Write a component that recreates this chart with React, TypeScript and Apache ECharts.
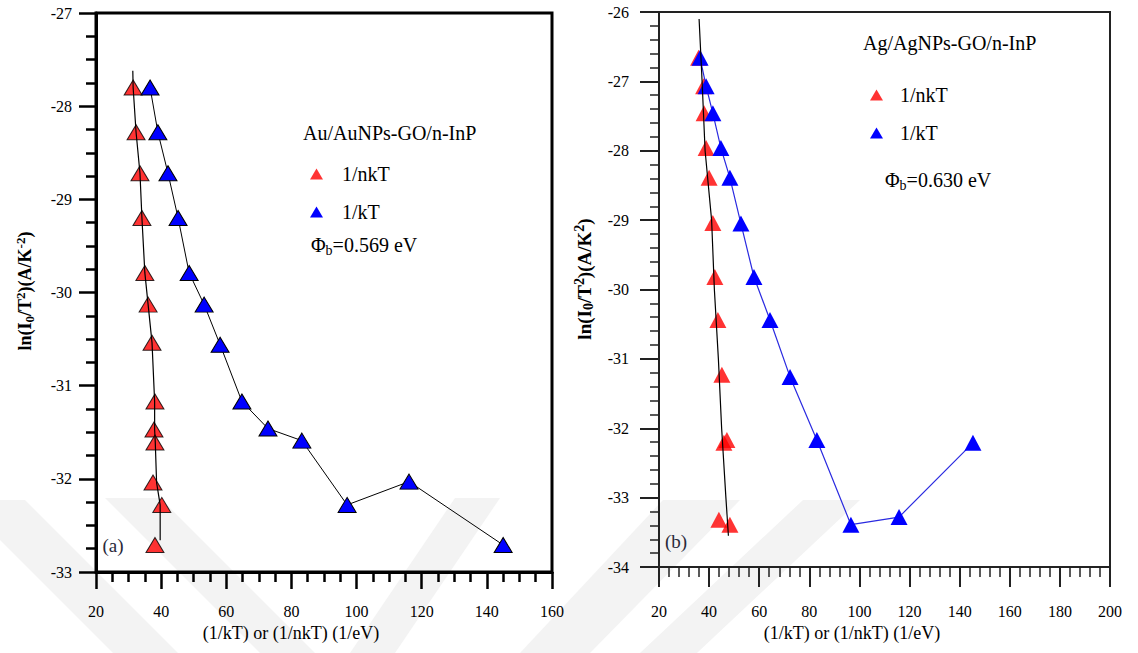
import React, { useEffect, useRef } from "react";
import * as echarts from "echarts";

// Panel (a): Au/AuNPs-GO/n-InP
const leftRedX = [31.4, 32.3, 33.5, 34.1, 35.0, 36.0, 37.2, 38.1, 37.8, 38.1, 37.5, 40.2, 38.1];
const leftRedY = [-27.80, -28.28, -28.72, -29.20, -29.79, -30.13, -30.54, -31.17, -31.47, -31.61, -32.04, -32.28, -32.71];
const leftBlueX = [36.6, 39.0, 42.1, 45.2, 48.6, 53.2, 58.1, 64.8, 72.8, 83.2, 97.1, 116.1, 145.0];
const leftBlueY = [-27.80, -28.28, -28.72, -29.20, -29.79, -30.13, -30.56, -31.17, -31.46, -31.59, -32.28, -32.03, -32.71];
const leftFitX = [31.3, 31.4, 32.3, 33.5, 34.1, 35.0, 36.0, 37.2, 38.0, 38.0, 38.2, 38.6, 39.7, 39.7];
const leftFitY = [-27.62, -27.80, -28.28, -28.72, -29.20, -29.79, -30.13, -30.54, -31.17, -31.47, -31.61, -32.04, -32.28, -32.66];

// Panel (b): Ag/AgNPs-GO/n-InP
const rightRedX = [35.8, 37.8, 38.0, 38.8, 40.0, 41.5, 42.3, 43.5, 45.1, 45.9, 47.1, 43.9, 48.3];
const rightRedY = [-26.66, -27.07, -27.46, -27.96, -28.39, -29.04, -29.82, -30.44, -31.23, -32.21, -32.17, -33.32, -33.39];
const rightBlueX = [36.4, 38.8, 41.5, 44.7, 48.3, 52.7, 57.9, 64.3, 72.3, 83.0, 96.6, 115.8, 145.3];
const rightBlueY = [-26.66, -27.07, -27.46, -27.96, -28.39, -29.05, -29.82, -30.44, -31.26, -32.17, -33.39, -33.28, -32.21];
const rightFitX = [36.0, 37.2, 38.4, 41.0, 42.1, 43.7, 45.0, 46.7, 47.7];
const rightFitY = [-26.1, -27.0, -28.0, -29.0, -30.0, -31.0, -32.0, -33.0, -33.55];

const seriesNames = ["1/nkT", "1/kT"];
const titles = ["Au/AuNPs-GO/n-InP", "Ag/AgNPs-GO/n-InP"];
const barrierValues = ["0.569", "0.630"];
const panelLabels = ["(a)", "(b)"];
const xAxisTitle = "(1/kT) or (1/nkT) (1/eV)";
const yAxisTitles = [
  "{n|ln(I}{sub|0}{n|/T}{sup|2}{n|)(A/K}{sup|-2}{n|)}",
  "{n|ln(I}{sub|0}{n|/T}{sup|2}{n|)(A/K}{sup|2}{n|)}",
];

const zip = (xs: number[], ys: number[]) => xs.map((x, i) => [x, ys[i]]);

const FONT = "'Liberation Serif', 'Times New Roman', serif";

export default function App() {
  const ref = useRef<HTMLDivElement>(null);

  useEffect(() => {
    if (!ref.current) return;
    const chart = echarts.init(ref.current, undefined, { renderer: "svg" });

    const label = (margin: number) => ({
      margin,
      fontFamily: FONT,
      fontSize: 16,
      color: "#000",
    });

    const wm = "#f3f3f3";
    const stripes = [
      [[-40, 500], [25, 500], [178, 653], [113, 653]],
      [[105, 498], [160, 498], [315, 653], [260, 653]],
      [[455, 498], [500, 498], [395, 653], [350, 653]],
      [[663, 500], [740, 500], [590, 653], [520, 653]],
      [[803, 500], [860, 500], [697, 653], [640, 653]],
    ];

    const phiText = (x: number, y: number, v: string) => ({
      type: "text", x, y,
      style: {
        text: `{a|\u03a6}{b|b}{a|=${v} eV}`, verticalAlign: "middle",
        rich: {
          a: { fontFamily: FONT, fontSize: 20, fill: "#000", verticalAlign: "middle" },
          b: { fontFamily: FONT, fontSize: 14, fill: "#000", padding: [10, 0, 0, 0], verticalAlign: "bottom" },
        },
      },
    });

    const yTitle = (x: number, y: number, text: string, main: number, small: number) => ({
      type: "text", x, y, rotation: Math.PI / 2,
      style: {
        text, align: "center", verticalAlign: "middle",
        rich: {
          n: { fontFamily: FONT, fontWeight: "bold", fontSize: main, fill: "#000", verticalAlign: "middle" },
          sub: { fontFamily: FONT, fontWeight: "bold", fontSize: small, fill: "#000", padding: [9, 0, 0, 0], verticalAlign: "bottom" },
          sup: { fontFamily: FONT, fontWeight: "bold", fontSize: small, fill: "#000", padding: [0, 0, 9, 0], verticalAlign: "top" },
        },
      },
    });

    const option: any = {
      animation: false,
      backgroundColor: "#fff",
      grid: [
        { left: 96, top: 13, width: 456, height: 559, show: true, borderColor: "#000", borderWidth: 3, backgroundColor: "transparent" },
        { left: 659, top: 12, width: 451, height: 555, show: true, borderColor: "#222", borderWidth: 2, backgroundColor: "transparent" },
      ],
      xAxis: [
        {
          gridIndex: 0, type: "value", min: 20, max: 160, interval: 20,
          axisLine: { onZero: false, lineStyle: { color: "#000", width: 3 } },
          axisTick: { length: 17, lineStyle: { color: "#000", width: 2.5 } },
          minorTick: { show: true, splitNumber: 4, length: 10, lineStyle: { color: "#000", width: 2.5 } },
          splitLine: { show: false },
          axisLabel: label(31),
        },
        {
          gridIndex: 1, type: "value", min: 20, max: 200, interval: 20,
          axisLine: { onZero: false, lineStyle: { color: "#222", width: 2 } },
          axisTick: { length: 20, lineStyle: { color: "#222", width: 2 } },
          minorTick: { show: true, splitNumber: 5, length: 10, lineStyle: { color: "#222", width: 1.5 } },
          splitLine: { show: false },
          axisLabel: label(36),
        },
      ],
      yAxis: [
        {
          gridIndex: 0, type: "value", min: -33, max: -27, interval: 1,
          axisLine: { onZero: false, lineStyle: { color: "#000", width: 3 } },
          axisTick: { length: 17, lineStyle: { color: "#000", width: 2.5 } },
          minorTick: { show: true, splitNumber: 4, length: 10, lineStyle: { color: "#000", width: 2.5 } },
          splitLine: { show: false },
          axisLabel: label(24),
        },
        {
          gridIndex: 1, type: "value", min: -34, max: -26, interval: 1,
          axisLine: { onZero: false, lineStyle: { color: "#222", width: 2 } },
          axisTick: { length: 19, lineStyle: { color: "#222", width: 2 } },
          minorTick: { show: true, splitNumber: 5, length: 9, lineStyle: { color: "#222", width: 1.5 } },
          splitLine: { show: false },
          axisLabel: label(30),
        },
      ],
      legend: [
        {
          left: 305, top: 159, orient: "vertical", itemGap: 18, itemWidth: 13, itemHeight: 11,
          icon: "triangle", data: seriesNames, selectedMode: false,
          itemStyle: { borderWidth: 0 },
          textStyle: { fontFamily: FONT, fontSize: 20, color: "#000", padding: [0, 0, 0, 14] },
        },
        {
          left: 865, top: 80, orient: "vertical", itemGap: 18, itemWidth: 13, itemHeight: 11,
          icon: "triangle", data: seriesNames, selectedMode: false,
          itemStyle: { borderWidth: 0 },
          textStyle: { fontFamily: FONT, fontSize: 20, color: "#000", padding: [0, 0, 0, 12] },
        },
      ],
      series: [
        {
          name: seriesNames[0], type: "scatter", xAxisIndex: 0, yAxisIndex: 0,
          symbol: "triangle", symbolSize: [18, 15],
          itemStyle: { color: "#ff0000", borderColor: "#000", borderWidth: 1 },
          data: zip(leftRedX, leftRedY), z: 3,
        },
        {
          name: seriesNames[1], type: "line", xAxisIndex: 0, yAxisIndex: 0,
          symbol: "triangle", symbolSize: [18, 15],
          itemStyle: { color: "#0000ff", borderColor: "#000", borderWidth: 1 },
          lineStyle: { color: "#000", width: 1 },
          data: zip(leftBlueX, leftBlueY), z: 3,
        },
        {
          name: "fitA", type: "line", xAxisIndex: 0, yAxisIndex: 0,
          showSymbol: false, symbol: "none",
          lineStyle: { color: "#000", width: 1.2 },
          data: zip(leftFitX, leftFitY), z: 4,
        },
        {
          name: seriesNames[0], type: "scatter", xAxisIndex: 1, yAxisIndex: 1,
          symbol: "triangle", symbolSize: [17, 16],
          itemStyle: { color: "#ff0000" },
          data: zip(rightRedX, rightRedY), z: 3,
        },
        {
          name: seriesNames[1], type: "line", xAxisIndex: 1, yAxisIndex: 1,
          symbol: "triangle", symbolSize: [17, 16],
          itemStyle: { color: "#0000ff" },
          lineStyle: { color: "#2a2ae0", width: 1.2 },
          data: zip(rightBlueX, rightBlueY), z: 3,
        },
        {
          name: "fitB", type: "line", xAxisIndex: 1, yAxisIndex: 1,
          showSymbol: false, symbol: "none",
          lineStyle: { color: "#000", width: 1.2 },
          data: zip(rightFitX, rightFitY), z: 4,
        },
      ],
      graphic: [
        ...stripes.map((pts) => ({
          type: "polygon", z: -10, silent: true,
          shape: { points: pts }, style: { fill: wm },
        })),
        {
          type: "text", x: 303, y: 133,
          style: { text: titles[0], font: `20px ${FONT}`, fill: "#000", verticalAlign: "middle" },
        },
        {
          type: "text", x: 863, y: 43,
          style: { text: titles[1], font: `20px ${FONT}`, fill: "#000", verticalAlign: "middle" },
        },
        phiText(311, 245, barrierValues[0]),
        phiText(885, 180, barrierValues[1]),
        {
          type: "text", x: 113, y: 545,
          style: { text: panelLabels[0], font: `19px ${FONT}`, fill: "#2a2a3a", align: "center", verticalAlign: "middle" },
        },
        {
          type: "text", x: 676, y: 541,
          style: { text: panelLabels[1], font: `19px ${FONT}`, fill: "#2a2a3a", align: "center", verticalAlign: "middle" },
        },
        {
          type: "text", x: 291, y: 633,
          style: { text: xAxisTitle, font: `18px ${FONT}`, fill: "#000", align: "center", verticalAlign: "middle" },
        },
        {
          type: "text", x: 852, y: 633,
          style: { text: xAxisTitle, font: `18px ${FONT}`, fill: "#000", align: "center", verticalAlign: "middle" },
        },
        yTitle(25, 291, yAxisTitles[0], 18, 13),
        yTitle(584, 279, yAxisTitles[1], 19, 14),
      ],
    };

    chart.setOption(option);
    return () => chart.dispose();
  }, []);

  return (
    <div
      ref={ref}
      style={{ position: "absolute", left: 0, top: 0, width: 1138, height: 653, background: "#fff" }}
    />
  );
}
